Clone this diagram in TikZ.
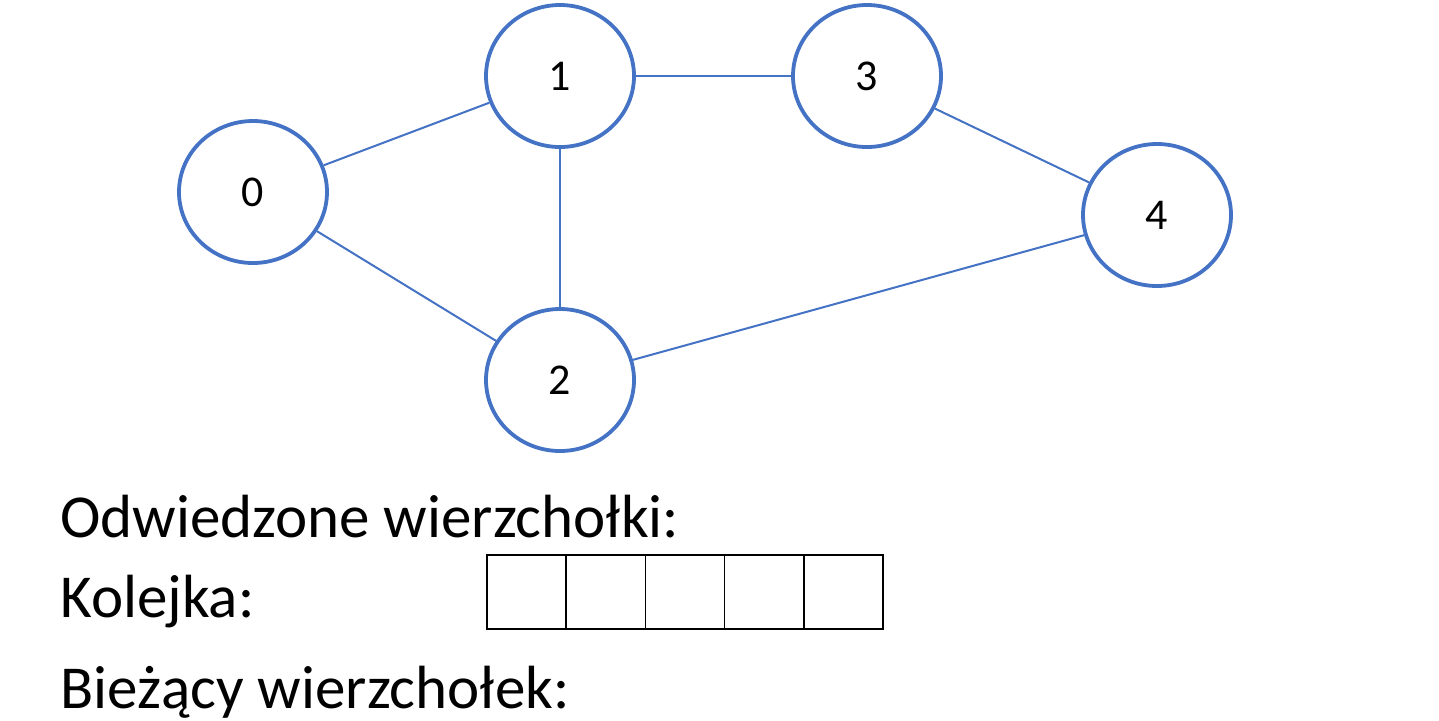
\documentclass[tikz,border=0pt]{standalone}
\usepackage{fontspec}
\setmainfont{Carlito}
\usetikzlibrary{shapes.geometric, positioning}
\definecolor{vblue}{HTML}{4472C4}

\begin{document}
\begin{tikzpicture}[x=0.5pt, y=-0.5pt, vertex/.style={ellipse, draw=vblue, line width=1.9pt, minimum width=74pt, minimum height=71pt, inner sep=0pt, font=\fontsize{22}{24}\selectfont}, edge/.style={draw=vblue, line width=1pt}, cell/.style={draw=black, line width=0.8pt, minimum width=39.6pt, minimum height=37pt, inner sep=0pt, outer sep=0pt}, caption/.style={anchor=base west, inner sep=0pt, font=\fontsize{30.5}{33}\selectfont}]
    \useasboundingbox (0,0) rectangle (1439,720);

    %Nodes
    \node[vertex](v0) at (253,192){0};
    \node[vertex](v1) at (560,76){1};
    \node[vertex](v3) at (867,76){3};
    \node[vertex](v4) at (1157,215){4};
    \node[vertex](v2) at (560,380){2};

    %Lines
    \draw[edge] (v0) -- (v1);
    \draw[edge] (v0) -- (v2);
    \draw[edge] (v1) -- (v3);
    \draw[edge] (v1) -- (v2);
    \draw[edge] (v3) -- (v4);
    \draw[edge] (v2) -- (v4);

    %Queue
    \node[cell](q0) at (526.6,592){};
    \foreach \i [remember=\i as \j (initially 0)] in {1,...,4}
        \node[cell, right=0pt of q\j](q\i){};

    %Texts
    \node[caption](visited) at (60,537){Odwiedzone wierzchołki:};
    \node[caption](queue) at (60,617){Kolejka:};
    \node[caption](current) at (60,708){Bieżący wierzchołek:};
\end{tikzpicture}
\end{document}
